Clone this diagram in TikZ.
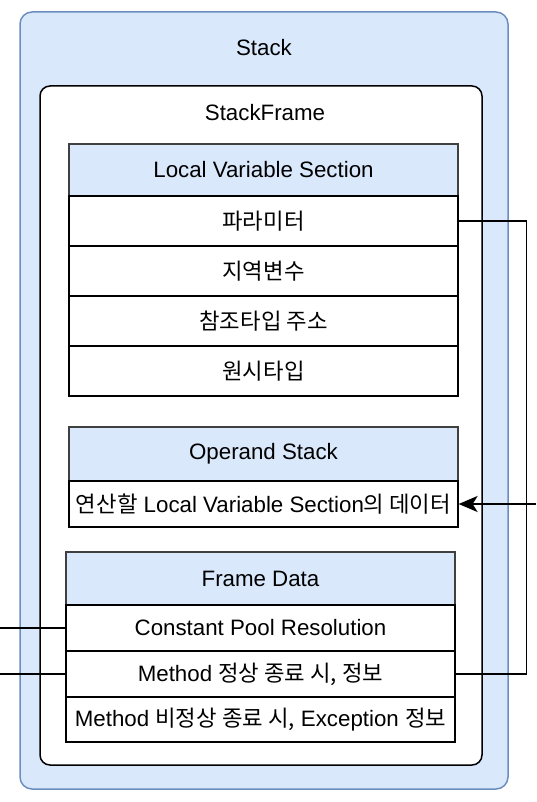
\documentclass[tikz,border=0pt]{standalone}
\usepackage{fontspec}
\setmainfont{Liberation Sans}
\newfontfamily\kr{Noto Sans CJK KR}
\usetikzlibrary{arrows.meta}
\definecolor{stackblue}{HTML}{DAE8FC}
\definecolor{stackline}{HTML}{6C8EBF}

\begin{document}
\begin{tikzpicture} [x=1pt,y=-1pt,font=\fontsize{22.3}{26}\selectfont,
  stackbox/.style= {draw=stackline,fill=stackblue,line width=1.5pt,rounded corners=12pt,inner sep=0},
  framebox/.style= {draw=black,fill=white,line width=1.5pt,rounded corners=10pt,inner sep=0},
  headbox/.style= {draw=black!75,fill=stackblue,line width=1.2pt,minimum width=389pt,inner sep=0},
  cellbox/.style= {draw=black,fill=white,line width=1.2pt,minimum width=389pt,inner sep=0},
  wire/.style= {draw=black,line width=1.5pt},
  feed/.style= {draw=black,line width=2.2pt,-{Stealth[length=19pt,width=16pt,inset=5pt]}}]
  \useasboundingbox (0,0) rectangle (536,802);
  % Stack and StackFrame
  {\node[stackbox,minimum width=488pt,minimum height=777pt] (stack) at (264,400.5) { };}
  {\node (stacklbl) at (264,48) {Stack};}
  {\node[framebox,minimum width=442pt,minimum height=679pt] (frame) at (261,425.5) { };}
  {\node (framelbl) at (265,113) {StackFrame};}
  % Local Variable Section
  {\node[headbox,minimum height=52pt] (lv) at (263.5,170) {Local Variable Section};}
  {\node[cellbox,minimum height=50pt] (lv1) at (263.5,221) {\kr 파라미터};}
  {\node[cellbox,minimum height=50pt] (lv2) at (263.5,271) {\kr 지역변수};}
  {\node[cellbox,minimum height=50pt] (lv3) at (263.5,321) {\kr 참조타입 주소};}
  {\node[cellbox,minimum height=50pt] (lv4) at (263.5,371) {\kr 원시타입};}
  % Operand Stack
  {\node[headbox,minimum height=54pt] (op) at (263.5,454) {Operand Stack};}
  {\node[cellbox,minimum height=46pt] (op1) at (263.5,504) {{\kr 연산할} Local Variable Section{\kr 의 데이터}};}
  % Frame Data
  {\node[headbox,minimum height=53pt] (fd) at (260.5,578.5) {Frame Data};}
  {\node[cellbox,minimum height=46pt] (fd1) at (260.5,628) {Constant Pool Resolution};}
  {\node[cellbox,minimum height=46pt] (fd2) at (260.5,674) {Method {\kr 정상 종료 시, 정보}};}
  {\node[cellbox,minimum height=45pt] (fd3) at (260.5,719.5) {Method {\kr 비정상 종료 시,} Exception {\kr 정보}};}
  % Connectors
  \coordinate (opin) at (536,504);
  \coordinate (cpin) at (0,628);
  \coordinate (mtin) at (0,674);
  \draw[wire] (lv1.east) -- ++(68,0) |- (fd2.east);
  \draw[feed] (opin) -- (op1.east);
  \draw[wire] (cpin) -- (fd1.west);
  \draw[wire] (mtin) -- (fd2.west);
\end{tikzpicture}
\end{document}
